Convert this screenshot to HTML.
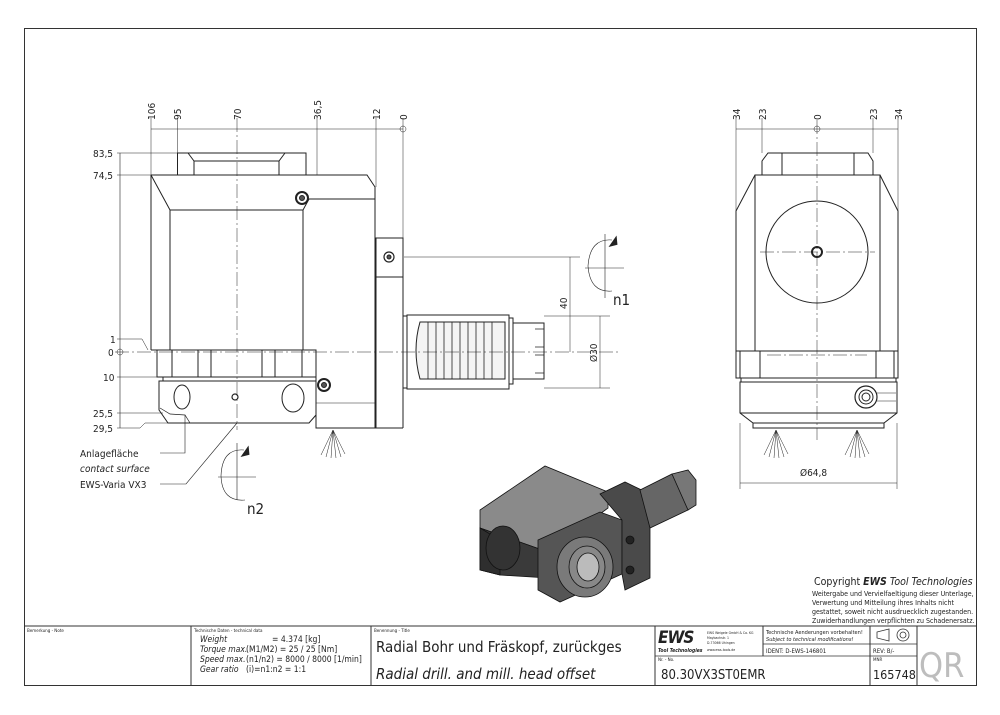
<!DOCTYPE html>
<html><head><meta charset="utf-8"><style>
html,body{margin:0;padding:0;background:#fff}
svg{display:block}
text{font-family:"DejaVu Sans Condensed","Liberation Sans Narrow","Liberation Sans",sans-serif;fill:#222}
</style></head><body>
<svg width="1000" height="715" viewBox="0 0 1000 715" xmlns="http://www.w3.org/2000/svg">
<rect x="0" y="0" width="1000" height="715" fill="#fff"/>
<rect x="24.5" y="28.5" width="952" height="657" fill="none" stroke="#333" stroke-width="1"/>

<!-- ===== LEFT VIEW ===== -->
<g stroke="#222" fill="none" stroke-width="1">
 <line x1="151" y1="129" x2="403" y2="129" stroke-width="0.6"/>
 <g stroke-width="0.5">
  <line x1="151" y1="118" x2="151" y2="175"/>
  <line x1="177.5" y1="118" x2="177.5" y2="153"/>
  <line x1="317" y1="118" x2="317" y2="175"/>
  <line x1="376" y1="118" x2="376" y2="187"/>
  <line x1="403" y1="118" x2="403" y2="238"/>
 </g>
 <circle cx="403" cy="129" r="3" stroke-width="0.5"/>
 <line x1="237" y1="118" x2="237" y2="430" stroke-width="0.5" stroke-dasharray="14,3,2,3"/>
 <!-- top block -->
 <rect x="177.5" y="153" width="128.5" height="22"/>
 <line x1="194" y1="161" x2="194" y2="175"/><line x1="279" y1="161" x2="279" y2="175"/>
 <path d="M188 153 L194 161 L279 161 L285 153"/>
 <!-- main body -->
 <path d="M151 175 L367 175 L375 187 L375 428 L316 428 L316 377"/>
 <line x1="151" y1="175" x2="151" y2="350"/>
 <path d="M151 175 L170 210 L303 210 L309 199"/>
 <line x1="170" y1="210" x2="170" y2="350"/>
 <line x1="303" y1="210" x2="303" y2="350"/>
 <line x1="309" y1="199" x2="375" y2="199"/>
 <line x1="151" y1="350" x2="316" y2="350"/>
 <!-- ring -->
 <rect x="157" y="350" width="159" height="27"/>
 <line x1="172" y1="350" x2="172" y2="377"/><line x1="198" y1="350" x2="198" y2="377"/><line x1="211" y1="350" x2="211" y2="377"/>
 <line x1="262" y1="350" x2="262" y2="377"/><line x1="275" y1="350" x2="275" y2="377"/><line x1="302" y1="350" x2="302" y2="377"/>
 <rect x="163" y="377" width="153" height="4"/>
 <!-- lower block -->
 <path d="M159 381 L316 381 L316 415 L309 423 L168 423 L159 410 Z"/>
 <ellipse cx="182" cy="397" rx="8" ry="12"/>
 <ellipse cx="293" cy="398" rx="11" ry="14"/>
 <path d="M160 408 L170 414 L185 415 L190 423" stroke-width="0.7"/>
 <!-- flange / bracket -->
 <line x1="376" y1="238" x2="376" y2="428"/>
 <rect x="376" y="238" width="27" height="39"/>
 <line x1="403" y1="277" x2="403" y2="428"/>
 <line x1="375" y1="428" x2="403" y2="428"/>
 <line x1="316" y1="403" x2="375" y2="403" stroke-width="0.6"/>
 <!-- spindle -->
 <rect x="403" y="316" width="4" height="72"/>
 <rect x="407" y="315" width="102" height="74"/>
 <path d="M420 322 L505 322 L505 379 L420 379 Q412 350 420 322 Z" fill="#f4f4f4"/>
 <g stroke-width="0.8">
  <path d="M428 322 L428 379 M436 322 L436 379 M444 322 L444 379 M452 322 L452 379 M460 322 L460 379 M468 322 L468 379 M476 322 L476 379 M484 322 L484 379 M492 322 L492 379"/>
 </g>
 <rect x="509" y="318" width="4" height="66"/>
 <path d="M513 323 L544 323 L544 379 L513 379 Z"/>
 <path d="M535 329 L544 329 M535 347 L544 347 M535 355 L544 355 M535 373 L544 373" stroke-width="0.8"/>
 <line x1="115" y1="352" x2="620" y2="352" stroke-width="0.5" stroke-dasharray="14,3,2,3"/>
 <!-- screws -->
 <circle cx="302" cy="198" r="6" stroke-width="2"/><circle cx="302" cy="198" r="2.5" fill="#555"/>
 <circle cx="389" cy="257" r="5" stroke-width="1.2"/><circle cx="389" cy="257" r="2" fill="#555"/>
 <circle cx="324" cy="385" r="6" stroke-width="2"/><circle cx="324" cy="385" r="2.5" fill="#555"/>
 <circle cx="235" cy="397" r="3" stroke-width="1.2"/>
 <!-- left dims -->
 <line x1="120" y1="153" x2="120" y2="428" stroke-width="0.6"/>
 <g stroke-width="0.5">
  <line x1="117" y1="153" x2="178" y2="153"/>
  <line x1="117" y1="175" x2="151" y2="175"/>
  <path d="M117 339 L142 339 L148 350"/>
  <line x1="117" y1="377" x2="157" y2="377"/>
  <line x1="117" y1="413" x2="163" y2="413"/>
  <path d="M117 428 L140 428 L145 423 L168 423"/>
 </g>
 <circle cx="120" cy="352" r="3" stroke-width="0.5"/>
 <!-- 40 & Ø30 dims -->
 <g stroke-width="0.5">
  <line x1="404" y1="257" x2="580" y2="257"/>
  <line x1="544" y1="316" x2="610" y2="316"/>
  <line x1="544" y1="388" x2="610" y2="388"/>
  <line x1="570" y1="257" x2="570" y2="352"/>
  <line x1="600" y1="316" x2="600" y2="388"/>
 </g>
 <!-- leaders -->
 <path d="M185 415 L185 453 L160 453" stroke-width="0.6"/>
 <path d="M237 423 L186 484 L160 484" stroke-width="0.6"/>
 <!-- sprinkle -->
 <g stroke-width="0.5"><path d="M333 430 L321 455 M333 430 L326 457 M333 430 L331 458 M333 430 L336 458 M333 430 L341 457 M333 430 L345 454"/></g>
 <!-- n1 symbol -->
 <line x1="585" y1="268" x2="624" y2="268" stroke-width="0.6"/>
 <line x1="605" y1="234" x2="605" y2="298" stroke-width="0.6"/>
 <path d="M612 240 Q590 238 588 266 Q590 293 612 291" stroke-width="0.6"/>
 <path d="M612 236 L618 243 L612 250 Z" fill="#222" stroke="none" transform="rotate(35 615 243)"/>
 <!-- n2 symbol -->
 <line x1="218" y1="477" x2="256" y2="477" stroke-width="0.6"/>
 <line x1="237" y1="443" x2="237" y2="500" stroke-width="0.6"/>
 <path d="M244 450 Q222 448 221 476 Q222 502 245 500" stroke-width="0.6"/>
 <path d="M244 446 L250 453 L244 460 Z" fill="#222" stroke="none" transform="rotate(35 247 453)"/>
</g>
<g font-size="10">
 <text x="155" y="120" transform="rotate(-90 155 120)">106</text>
 <text x="181" y="120" transform="rotate(-90 181 120)">95</text>
 <text x="241" y="120" transform="rotate(-90 241 120)">70</text>
 <text x="321" y="120" transform="rotate(-90 321 120)">36,5</text>
 <text x="380" y="120" transform="rotate(-90 380 120)">12</text>
 <text x="407" y="120" transform="rotate(-90 407 120)">0</text>
 <text x="93" y="157">83,5</text>
 <text x="93" y="179">74,5</text>
 <text x="110" y="343">1</text>
 <text x="108" y="356">0</text>
 <text x="103" y="381">10</text>
 <text x="93" y="417">25,5</text>
 <text x="93" y="432">29,5</text>
 <text x="567" y="309" transform="rotate(-90 567 309)">40</text>
 <text x="597" y="362" transform="rotate(-90 597 362)">Ø30</text>
 <text x="80" y="457">Anlagefläche</text>
 <text x="80" y="472" font-style="italic">contact surface</text>
 <text x="80" y="488">EWS-Varia VX3</text>
</g>
<text x="613" y="305" font-size="15" font-family="Liberation Sans">n1</text>
<text x="247" y="514" font-size="15" font-family="Liberation Sans">n2</text>

<!-- ===== RIGHT VIEW ===== -->
<g stroke="#222" fill="none" stroke-width="1">
 <line x1="736" y1="129" x2="898" y2="129" stroke-width="0.6"/>
 <g stroke-width="0.5">
  <line x1="736" y1="118" x2="736" y2="211"/>
  <line x1="762" y1="118" x2="762" y2="153"/>
  <line x1="873" y1="118" x2="873" y2="153"/>
  <line x1="898" y1="118" x2="898" y2="211"/>
 </g>
 <circle cx="817" cy="129" r="3" stroke-width="0.5"/>
 <line x1="817" y1="120" x2="817" y2="440" stroke-width="0.5" stroke-dasharray="14,3,2,3"/>
 <path d="M762 175 L762 161 L768 153 L868 153 L873 161 L873 175"/>
 <line x1="782" y1="153" x2="782" y2="175"/><line x1="854" y1="153" x2="854" y2="175"/>
 <rect x="755" y="175" width="125" height="176"/>
 <path d="M755 175 L736 211 L736 378 M880 175 L898 211 L898 378"/>
 <rect x="736" y="351" width="162" height="27"/>
 <line x1="760" y1="351" x2="760" y2="378"/><line x1="876" y1="351" x2="876" y2="378"/>
 <line x1="740" y1="351" x2="740" y2="378"/><line x1="894" y1="351" x2="894" y2="378"/>
 <line x1="767" y1="355" x2="867" y2="355" stroke-width="0.5" stroke-dasharray="14,3,2,3"/>
 <rect x="741" y="378" width="155" height="4"/>
 <path d="M740 382 L897 382 L897 413 L884 423 L753 423 L740 413 Z"/>
 <line x1="740" y1="413" x2="897" y2="413"/>
 <rect x="753" y="423" width="131" height="5"/>
 <circle cx="817" cy="252" r="51"/>
 <line x1="760" y1="252" x2="875" y2="252" stroke-width="0.5" stroke-dasharray="14,3,2,3"/>
 <circle cx="817" cy="252" r="5" stroke-width="2"/>
 <circle cx="866" cy="397" r="11" stroke-width="1.2"/><circle cx="866" cy="397" r="7"/><circle cx="866" cy="397" r="4"/>
 <path d="M877 393 L896 393 M877 401 L896 401" stroke-width="0.6"/>
 <g stroke-width="0.5">
  <path d="M776 430 L764 455 M776 430 L769 457 M776 430 L774 458 M776 430 L779 458 M776 430 L784 457 M776 430 L788 454"/>
  <path d="M857 430 L845 455 M857 430 L850 457 M857 430 L855 458 M857 430 L860 458 M857 430 L865 457 M857 430 L869 454"/>
  <line x1="740" y1="423" x2="740" y2="489"/><line x1="897" y1="423" x2="897" y2="489"/>
 </g>
 <line x1="740" y1="483" x2="897" y2="483" stroke-width="0.6"/>
</g>
<g font-size="10">
 <text x="740" y="120" transform="rotate(-90 740 120)">34</text>
 <text x="766" y="120" transform="rotate(-90 766 120)">23</text>
 <text x="821" y="120" transform="rotate(-90 821 120)">0</text>
 <text x="877" y="120" transform="rotate(-90 877 120)">23</text>
 <text x="902" y="120" transform="rotate(-90 902 120)">34</text>
 <text x="800" y="476">Ø64,8</text>
</g>

<!-- ===== 3D VIEW ===== -->
<g stroke="#111" stroke-width="0.8">
 <path d="M480 510 L545 466 L608 492 L608 508 L548 552 L480 528 Z" fill="#8a8a8a"/>
 <path d="M480 528 L548 552 L548 578 L500 575 L480 570 Z" fill="#3a3a3a"/>
 <path d="M480 528 L480 570 L500 575 L500 540 Z" fill="#2e2e2e"/>
 <ellipse cx="503" cy="548" rx="17" ry="22" fill="#333"/>
 <path d="M538 540 L600 512 L622 520 L622 574 L560 602 L538 590 Z" fill="#555"/>
 <path d="M600 494 L625 482 L650 494 L650 578 L625 590 L622 574 L622 520 Z" fill="#4a4a4a"/>
 <path d="M640 490 L672 474 L688 482 L688 510 L650 528 Z" fill="#666"/>
 <path d="M672 474 L688 470 L696 480 L696 505 L688 510 Z" fill="#777"/>
 <ellipse cx="585" cy="567" rx="28" ry="30" fill="#7a7a7a"/>
 <ellipse cx="587" cy="567" rx="18" ry="21" fill="#888"/>
 <ellipse cx="588" cy="567" rx="11" ry="14" fill="#bbb"/>
 <circle cx="630" cy="540" r="4" fill="#222"/><circle cx="630" cy="570" r="4" fill="#222"/>
</g>

<!-- Copyright -->
<text x="814" y="585" font-size="10.5" font-family="Liberation Sans">Copyright <tspan font-weight="bold" font-style="italic">EWS</tspan><tspan font-style="italic"> Tool Technologies</tspan></text>
<g font-size="7" font-family="Liberation Sans">
 <text x="812" y="596">Weitergabe und Vervielfaeltigung dieser Unterlage,</text>
 <text x="812" y="605">Verwertung und Mitteilung ihres Inhalts nicht</text>
 <text x="812" y="614">gestattet, soweit nicht ausdruecklich zugestanden.</text>
 <text x="812" y="623">Zuwiderhandlungen verpflichten zu Schadenersatz.</text>
</g>

<!-- ===== TITLE BLOCK ===== -->
<g stroke="#333" fill="none" stroke-width="1">
 <line x1="24" y1="626" x2="977" y2="626"/>
 <line x1="191" y1="626" x2="191" y2="686"/>
 <line x1="371" y1="626" x2="371" y2="686"/>
 <line x1="655" y1="626" x2="655" y2="686"/>
 <line x1="763" y1="626" x2="763" y2="656"/>
 <line x1="870" y1="626" x2="870" y2="686"/>
 <line x1="917" y1="626" x2="917" y2="686"/>
 <line x1="655" y1="656" x2="917" y2="656" stroke-width="0.7"/>
 <line x1="763" y1="644" x2="917" y2="644" stroke-width="0.7"/>
 <path d="M877 632 L889 629 L889 641 L877 638 Z" stroke-width="0.8"/>
 <circle cx="903" cy="635" r="6" stroke-width="0.8"/><circle cx="903" cy="635" r="3" stroke-width="0.8"/>
</g>
<g font-size="4.5"><text x="27" y="632">Bemerkung - Note</text><text x="194" y="632">Technische Daten - technical data</text><text x="374" y="632">Benennung - Title</text><text x="658" y="661">Nr. - No.</text><text x="873" y="661">MNR</text></g>
<g font-size="8.5" font-style="italic">
 <text x="200" y="642">Weight</text><text x="272" y="642" font-style="normal">=  4.374 [kg]</text>
 <text x="200" y="652">Torque max.</text><text x="246" y="652" font-style="normal">(M1/M2) =  25 / 25 [Nm]</text>
 <text x="200" y="662">Speed max.</text><text x="246" y="662" font-style="normal">(n1/n2)  =  8000 / 8000 [1/min]</text>
 <text x="200" y="672">Gear ratio</text><text x="246" y="672" font-style="normal">(i)=n1:n2 =  1:1</text>
</g>
<text x="376" y="652" font-size="15">Radial Bohr und Fräskopf, zurückges</text>
<text x="376" y="679" font-size="15" font-style="italic">Radial drill. and mill. head offset</text>
<text x="658" y="643" font-size="17" font-weight="bold" font-style="italic" font-family="Liberation Sans" letter-spacing="-1">EWS</text>
<text x="658" y="652" font-size="5" font-weight="bold" font-style="italic" font-family="Liberation Sans">Tool Technologies</text>
<g font-size="3.5" font-family="Liberation Sans"><text x="707" y="634">EWS Weigele GmbH &amp; Co. KG</text><text x="707" y="639">Maybachstr. 1</text><text x="707" y="644">D-73066 Uhingen</text><text x="707" y="651">www.ews-tools.de</text></g>
<text x="766" y="634" font-size="5.6">Technische Aenderungen vorbehalten!</text>
<text x="766" y="641" font-size="5.6" font-style="italic">Subject to technical modifications!</text>
<text x="766" y="653" font-size="6">IDENT:  D-EWS-146801</text>
<text x="873" y="653" font-size="6">REV:  B/-</text>
<text x="661" y="679" font-size="13">80.30VX3ST0EMR</text>
<text x="873" y="679" font-size="12.5">165748</text>
<text x="919" y="677" font-size="34" font-family="Liberation Sans" style="fill:#bdbdbd">QR</text>
</svg>
</body></html>
